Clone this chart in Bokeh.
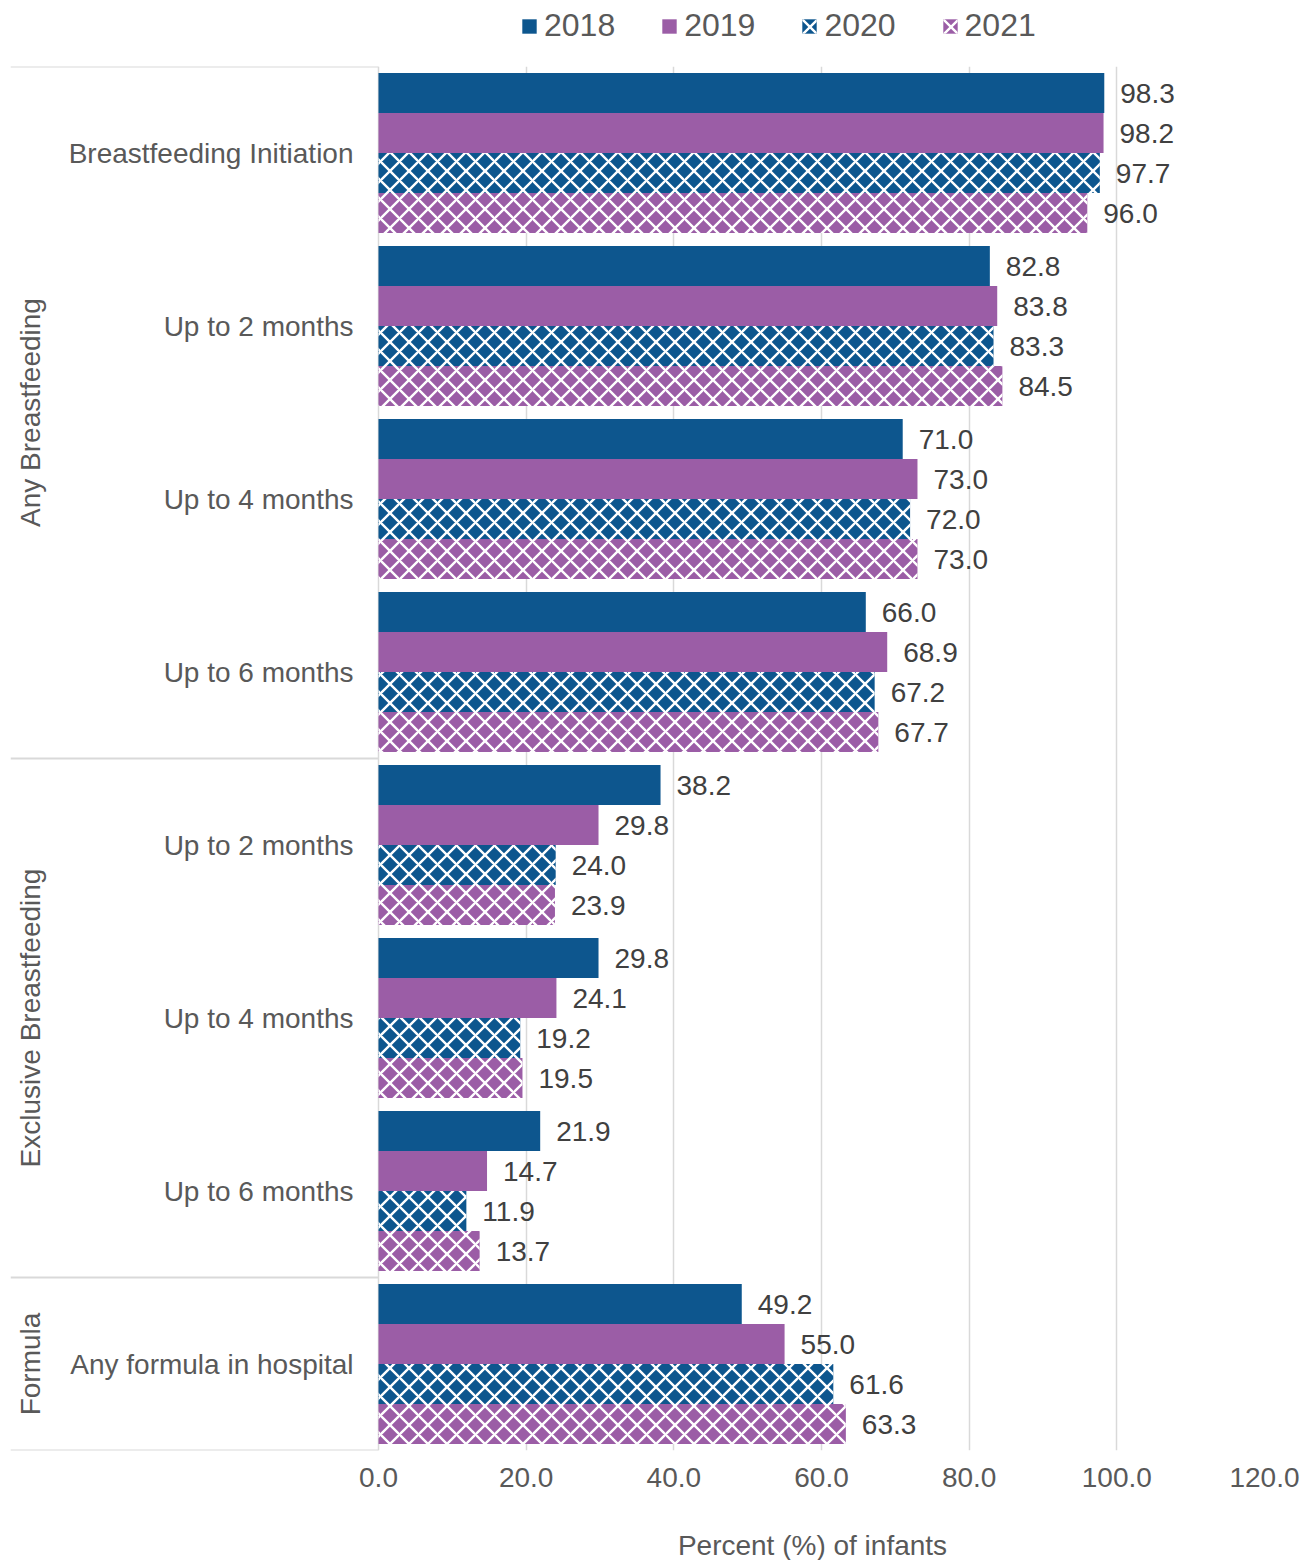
import numpy as np
from bokeh.plotting import figure
from bokeh.layouts import column
from bokeh.models import (ColumnDataSource, Range1d, FixedTicker, PrintfTickFormatter,
                          Legend, LegendItem, Label)
from bokeh.core.properties import value
from bokeh.embed import file_html
from bokeh.resources import INLINE

# ---------------- data ----------------
groups = ["Any Breastfeeding", "Exclusive Breastfeeding", "Formula"]
group_sizes = [4, 3, 1]
categories = ["Breastfeeding Initiation", "Up to 2 months", "Up to 4 months", "Up to 6 months",
              "Up to 2 months", "Up to 4 months", "Up to 6 months", "Any formula in hospital"]
years = ["2018", "2019", "2020", "2021"]
v2018 = [98.3, 82.8, 71.0, 66.0, 38.2, 29.8, 21.9, 49.2]
v2019 = [98.2, 83.8, 73.0, 68.9, 29.8, 24.1, 14.7, 55.0]
v2020 = [97.7, 83.3, 72.0, 67.2, 24.0, 19.2, 11.9, 61.6]
v2021 = [96.0, 84.5, 73.0, 67.7, 23.9, 19.5, 13.7, 63.3]
x_ticks = [0, 20, 40, 60, 80, 100, 120]
x_title = "Percent (%) of infants"

# ---------------- styling / layout ----------------
FONT = value("Liberation Sans")
FS = "28px"
BLUE = "#0D568E"
PURPLE = "#9B5DA6"
GRID = "#d9d9d9"
W = 1300
LEG_H = 66            # legend strip height
B_LEFT, B_RIGHT = 10, 36
FRAME_H = 1384
B_BOTTOM = 52
MAIN_H = FRAME_H + B_BOTTOM
TITLE_H = 58
frame_w = W - B_LEFT - B_RIGHT
label_area_px = 368
x_max = x_ticks[-1]
px_per_unit = (frame_w - label_area_px) / x_max
x_min = -label_area_px / px_per_unit

n = len(categories)
slot_px = FRAME_H / n
bar_px = 40
bar_h = bar_px / slot_px

xr = Range1d(x_min, x_max)


def bare(fig):
    fig.outline_line_color = None
    fig.background_fill_color = "white"
    fig.border_fill_color = "white"
    return fig


# ---------------- main chart ----------------
p = bare(figure(width=W, height=MAIN_H, output_backend="svg", toolbar_location=None,
                x_range=xr, y_range=Range1d(n, 0), y_axis_location=None,
                min_border_left=B_LEFT, min_border_right=B_RIGHT,
                min_border_top=0, min_border_bottom=B_BOTTOM))

centers = np.arange(n) + 0.5
series = [(years[0], v2018, BLUE, None), (years[1], v2019, PURPLE, None),
          (years[2], v2020, BLUE, "diagonal_cross"), (years[3], v2021, PURPLE, "diagonal_cross")]


def bar_style(col, hatch):
    kw = dict(fill_color=col, line_color=None)
    if hatch:
        kw.update(hatch_pattern=hatch, hatch_color="white", hatch_scale=19, hatch_weight=2.4)
    return kw


for j, (yr, vals, col, hatch) in enumerate(series):
    ys = centers + (j - 1.5) * bar_h
    src = ColumnDataSource(dict(y=ys, v=vals, lbl=[f"{v:.1f}" for v in vals]))
    p.hbar(y="y", left=0, right="v", height=bar_h, source=src, **bar_style(col, hatch))
    p.text(x="v", y="y", text="lbl", source=src, x_offset=16, text_baseline="middle",
           text_align="left", text_font=FONT, text_font_size=value(FS), text_color="#404040")

# category labels
p.text(x=[0] * n, y=list(centers), text=categories, x_offset=-25, text_align="right",
       text_baseline="middle", text_font=FONT, text_font_size=value(FS), text_color="#595959")

# group labels and separators
bounds = np.concatenate([[0], np.cumsum(group_sizes)])
gcent = (bounds[:-1] + bounds[1:]) / 2
p.text(x=[0] * len(groups), y=list(gcent), text=groups, x_offset=-348, angle=np.pi / 2,
       text_align="center", text_baseline="middle", text_font=FONT,
       text_font_size=value(FS), text_color="#595959")
p.segment(x0=[x_min] * len(bounds), x1=[0] * len(bounds), y0=list(bounds), y1=list(bounds),
          line_color=GRID, line_width=2)

# x axis
p.xaxis.ticker = FixedTicker(ticks=x_ticks)
p.xaxis.formatter = PrintfTickFormatter(format="%.1f")
p.xaxis.axis_line_color = None
p.xaxis.major_tick_line_color = None
p.xaxis.minor_tick_line_color = None
p.xaxis.major_tick_out = 0
p.xaxis.major_tick_in = 0
p.xaxis.major_label_standoff = 17
p.xaxis.major_label_text_font = "Liberation Sans"
p.xaxis.major_label_text_font_size = FS
p.xaxis.major_label_text_color = "#595959"
p.xgrid.grid_line_color = GRID
p.xgrid.grid_line_width = 1.5
p.ygrid.visible = False

# ---------------- legend strip ----------------
lf = bare(figure(width=W, height=LEG_H, output_backend="svg", toolbar_location=None,
                 x_range=Range1d(0, 1), y_range=Range1d(0, 1),
                 x_axis_location=None, y_axis_location=None, min_border=0))
lf.grid.visible = False
items = []
for yr, vals, col, hatch in series:
    # proxy glyph placed outside the visible strip; only its legend swatch is shown
    r = lf.hbar(y=[-5], left=[0], right=[1], height=0.5, **bar_style(col, hatch))
    items.append(LegendItem(label=yr, renderers=[r]))
legend = Legend(items=items, orientation="horizontal", location=(510, 22),
                label_text_font="Liberation Sans", label_text_font_size="32px",
                label_text_color="#595959", glyph_width=18, glyph_height=18,
                label_standoff=6, spacing=45, padding=0, margin=0,
                border_line_color=None, background_fill_alpha=0)
lf.add_layout(legend)

# ---------------- x-axis title strip ----------------
tf = bare(figure(width=W, height=TITLE_H, output_backend="svg", toolbar_location=None,
                 x_range=xr, y_range=Range1d(0, 1), x_axis_location=None, y_axis_location=None,
                 min_border_left=B_LEFT, min_border_right=B_RIGHT, min_border_top=0,
                 min_border_bottom=0))
tf.grid.visible = False
tf.add_layout(Label(x=x_max / 2, x_units="data", y=15, y_units="screen", x_offset=-9,
                    text=x_title, text_align="center", text_baseline="middle",
                    text_font="Liberation Sans", text_font_size=FS, text_color="#595959"))

layout = column(lf, p, tf, spacing=0)
open("out.html", "w").write(file_html(layout, INLINE))
